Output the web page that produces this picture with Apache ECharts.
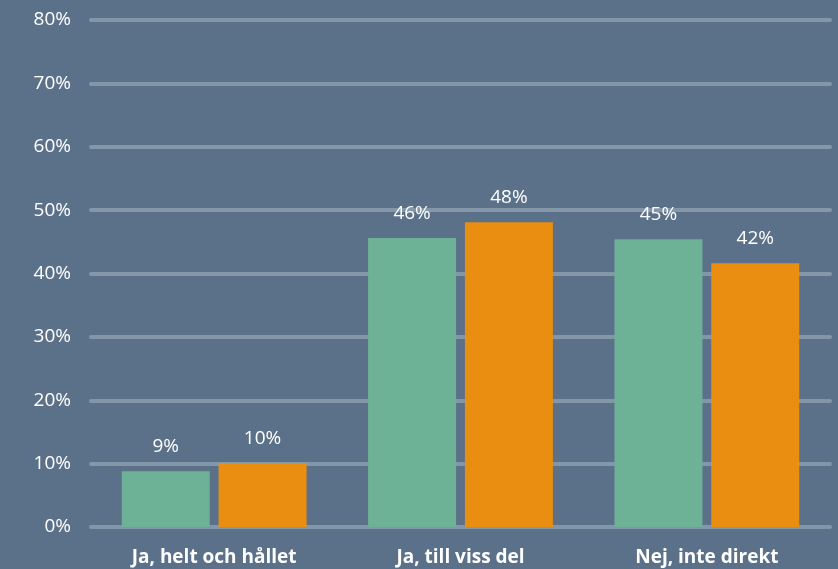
<!DOCTYPE html>
<html>
<head>
<meta charset="utf-8">
<script src="https://cdn.jsdelivr.net/npm/echarts@6/dist/echarts.min.js"></script>
<style>
  html, body { margin: 0; padding: 0; background: #5b7189; }
  #chart { width: 838px; height: 569px; }
</style>
</head>
<body>
<div id="chart"></div>
<script>
const categories = ['Ja, helt och hållet', 'Ja, till viss del', 'Nej, inte direkt'];
const seriesA = [8.8, 45.6, 45.4];
const seriesB = [10.1, 48.1, 41.6];
const yTicks = [0, 10, 20, 30, 40, 50, 60, 70, 80];

const font = '"Open Sans", sans-serif';

const chart = echarts.init(document.getElementById('chart'));

const labelOpt = {
    show: true,
    position: 'top',
    distance: 15,
    color: '#ffffff',
    fontFamily: font,
    fontSize: 19,
    formatter: p => Math.round(p.value) + '%'
};

chart.setOption({
    backgroundColor: '#5b7189',
    animation: false,
    grid: {left: 91, right: 8, top: 20, bottom: 42},
    xAxis: {
        type: 'category',
        data: categories,
        axisLine: {show: false},
        axisTick: {show: false},
        axisLabel: {
            color: '#ffffff',
            fontFamily: font,
            fontWeight: 'bold',
            fontSize: 19,
            margin: 21
        }
    },
    yAxis: {
        type: 'value',
        min: yTicks[0],
        max: yTicks[yTicks.length - 1],
        interval: 10,
        axisLine: {show: false},
        axisTick: {show: false},
        axisLabel: {
            color: '#ffffff',
            fontFamily: font,
            fontSize: 19,
            margin: 20,
            formatter: v => v + '%'
        },
        splitLine: {
            lineStyle: {color: '#8497a9', width: 4, cap: 'round'}
        }
    },
    series: [
        {
            name: 'A',
            type: 'bar',
            data: seriesA,
            barWidth: 88,
            barGap: '10%',
            itemStyle: {color: '#6db196'},
            label: labelOpt
        },
        {
            name: 'B',
            type: 'bar',
            data: seriesB,
            barWidth: 88,
            barGap: '10%',
            itemStyle: {color: '#ea8e12'},
            label: labelOpt
        }
    ]
});
</script>
</body>
</html>
